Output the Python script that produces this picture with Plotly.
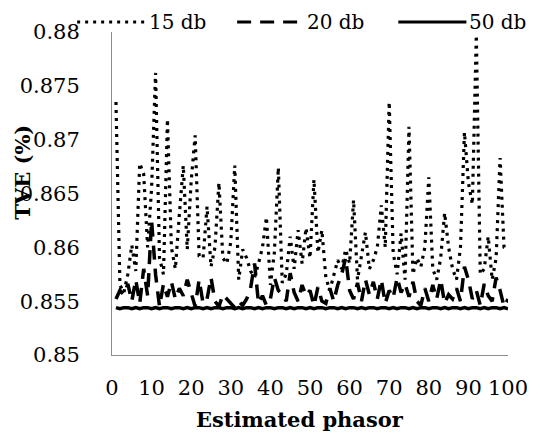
import plotly.graph_objects as go

# numero del fasore stimato
phasor = list(range(1, 101))

# TVE (%) per i tre livelli di rumore
tve_15db = [
    0.8735, 0.8565, 0.8558, 0.8575, 0.8602, 0.8578, 0.8678, 0.8668, 0.8600, 0.8655,
    0.8762, 0.8590, 0.8575, 0.8719, 0.8600, 0.8580, 0.8630, 0.8676, 0.8598, 0.8662,
    0.8704, 0.8592, 0.8590, 0.8638, 0.8582, 0.8600, 0.8660, 0.8590, 0.8585, 0.8605,
    0.8676, 0.8570, 0.8598, 0.8590, 0.8578, 0.8572, 0.8585, 0.8600, 0.8628, 0.8565,
    0.8595, 0.8674, 0.8567, 0.8575, 0.8610, 0.8580, 0.8616, 0.8585, 0.8618, 0.8590,
    0.8663, 0.8595, 0.8616, 0.8572, 0.8560, 0.8575, 0.8588, 0.8580, 0.8598, 0.8585,
    0.8644, 0.8570, 0.8590, 0.8614, 0.8580, 0.8588, 0.8600, 0.8639, 0.8600, 0.8735,
    0.8595, 0.8575, 0.8613, 0.8570, 0.8712, 0.8575, 0.8590, 0.8582, 0.8600, 0.8665,
    0.8580, 0.8570, 0.8590, 0.8632, 0.8600, 0.8580, 0.8570, 0.8600, 0.8707, 0.8660,
    0.8640, 0.8797, 0.8575, 0.8580, 0.8610, 0.8570, 0.8590, 0.8683, 0.8600, 0.8598,
]
tve_20db = [
    0.8552, 0.8560, 0.8556, 0.8566, 0.8550, 0.8570, 0.8548, 0.8580, 0.8555, 0.8625,
    0.8575, 0.8545, 0.8566, 0.8554, 0.8568, 0.8552, 0.8562, 0.8555, 0.8570, 0.8558,
    0.8545, 0.8570, 0.8548, 0.8552, 0.8572, 0.8550, 0.8545, 0.8556, 0.8552, 0.8548,
    0.8544, 0.8550, 0.8546, 0.8552, 0.8562, 0.8585, 0.8548, 0.8555, 0.8546, 0.8552,
    0.8572, 0.8560, 0.8556, 0.8550, 0.8576, 0.8558, 0.8550, 0.8565, 0.8555, 0.8560,
    0.8546, 0.8563, 0.8550, 0.8548, 0.8562, 0.8550, 0.8565, 0.8575, 0.8590, 0.8560,
    0.8552, 0.8567, 0.8550, 0.8570, 0.8556, 0.8568, 0.8552, 0.8570, 0.8548, 0.8560,
    0.8553, 0.8572, 0.8558, 0.8566, 0.8554, 0.8568, 0.8550, 0.8546, 0.8562, 0.8550,
    0.8565, 0.8552, 0.8570, 0.8548, 0.8556, 0.8552, 0.8562, 0.8550, 0.8582, 0.8570,
    0.8552, 0.8560, 0.8546, 0.8566, 0.8555, 0.8550, 0.8572, 0.8560, 0.8545, 0.8552,
]
tve_50db = [
    0.8544, 0.8543, 0.8544, 0.8544, 0.8543, 0.8544, 0.8543, 0.8544, 0.8544, 0.8543,
    0.8544, 0.8543, 0.8544, 0.8544, 0.8543, 0.8544, 0.8544, 0.8543, 0.8544, 0.8543,
    0.8544, 0.8544, 0.8543, 0.8544, 0.8543, 0.8544, 0.8544, 0.8543, 0.8544, 0.8544,
    0.8543, 0.8544, 0.8543, 0.8544, 0.8544, 0.8543, 0.8544, 0.8543, 0.8544, 0.8544,
    0.8543, 0.8544, 0.8544, 0.8543, 0.8544, 0.8543, 0.8544, 0.8544, 0.8543, 0.8544,
    0.8543, 0.8544, 0.8544, 0.8543, 0.8544, 0.8544, 0.8543, 0.8544, 0.8543, 0.8544,
    0.8544, 0.8543, 0.8544, 0.8543, 0.8544, 0.8544, 0.8543, 0.8544, 0.8544, 0.8543,
    0.8544, 0.8543, 0.8544, 0.8544, 0.8543, 0.8544, 0.8543, 0.8544, 0.8544, 0.8543,
    0.8544, 0.8544, 0.8543, 0.8544, 0.8543, 0.8544, 0.8544, 0.8543, 0.8544, 0.8543,
    0.8544, 0.8544, 0.8543, 0.8544, 0.8543, 0.8544, 0.8544, 0.8543, 0.8544, 0.8543,
]

y_ticks = [0.85, 0.855, 0.86, 0.865, 0.87, 0.875, 0.88]
y_tick_labels = ["0.85", "0.855", "0.86", "0.865", "0.87", "0.875", "0.88"]
x_ticks = [0, 10, 20, 30, 40, 50, 60, 70, 80, 90, 100]

font = "DejaVu Serif"
fsize = 21
dot_style = "3px,5px"
dash_style = "14px,9px"

fig = go.Figure()
fig.add_trace(go.Scatter(x=phasor, y=tve_15db, mode="lines", name="15 db",
                         line=dict(color="black", width=3.2, dash=dot_style)))
fig.add_trace(go.Scatter(x=phasor, y=tve_20db, mode="lines", name="20 db",
                         line=dict(color="black", width=3.5, dash=dash_style)))
fig.add_trace(go.Scatter(x=phasor, y=tve_50db, mode="lines", name="50 db",
                         line=dict(color="black", width=3.5)))

# legenda disegnata a mano, sopra il grafico
legend_items = [("15 db", dot_style, -0.088, 0.083, 0.092),
                ("20 db", dash_style, 0.316, 0.488, 0.49),
                ("50 db", "solid", 0.723, 0.895, 0.9)]
for label, dash, x0, x1, xt in legend_items:
    fig.add_shape(type="line", xref="paper", yref="paper", x0=x0, x1=x1,
                  y0=1.031, y1=1.031, line=dict(color="black", width=3, dash=dash))
    fig.add_annotation(text=label, xref="paper", yref="paper", x=xt, y=1.031,
                       xanchor="left", yanchor="middle", showarrow=False, borderpad=0,
                       font=dict(family=font, size=20, color="black"))

fig.add_annotation(text="<b>TVE (%)</b>", xref="paper", yref="paper", x=-0.225, y=0.567,
                   textangle=-90, xanchor="center", yanchor="middle", showarrow=False,
                   font=dict(family=font, size=fsize, color="black"))
fig.add_annotation(text="<b>Estimated phasor</b>", xref="paper", yref="paper", x=0.475, y=-0.2,
                   xanchor="center", yanchor="middle", showarrow=False,
                   font=dict(family=font, size=fsize, color="black"))

# la pagina html ha 8px di margine sul body: si compensa qui
fig.update_layout(
    width=532, height=431,
    margin=dict(l=100, r=24, t=24, b=84),
    paper_bgcolor="white", plot_bgcolor="white",
    showlegend=False,
    font=dict(family=font, size=fsize, color="black"),
)
fig.update_xaxes(range=[0, 100], tickvals=x_ticks, showgrid=False, zeroline=False,
                 showline=True, linecolor="#8c8c8c", linewidth=1, ticks="",
                 ticklabelstandoff=14, tickfont=dict(family=font, size=fsize, color="black"))
fig.update_yaxes(range=[0.85, 0.88], tickvals=y_ticks, ticktext=y_tick_labels,
                 showgrid=False, zeroline=False,
                 showline=True, linecolor="#8c8c8c", linewidth=1, ticks="",
                 ticklabelstandoff=27, tickfont=dict(family=font, size=fsize, color="black"))

fig.write_html("out.html")
